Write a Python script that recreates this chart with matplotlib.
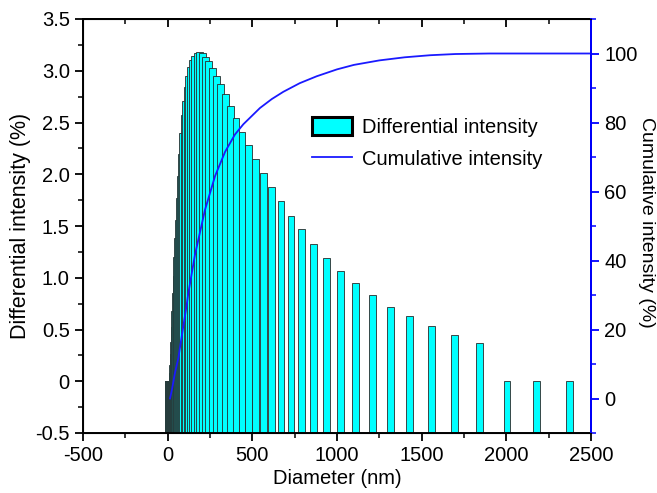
import matplotlib
matplotlib.use("Agg")
import matplotlib.pyplot as plt
from matplotlib.patches import Patch
from matplotlib.lines import Line2D
from matplotlib.ticker import MultipleLocator

plt.rcParams["font.family"] = ["Liberation Sans", "DejaVu Sans"]
plt.rcParams["axes.unicode_minus"] = False

# bar centres (nm) and differential intensity (%)
diameter = [2.8, 3.0, 3.3, 3.6, 3.9, 4.3, 4.6, 5.0, 5.5, 6.0,
            6.5, 7.1, 7.7, 8.4, 9.1, 9.9, 10.8, 11.7, 12.7, 13.9,
            15.1, 16.4, 17.9, 19.4, 21.1, 23.0, 25.0, 27.2, 29.6, 32.2,
            35.1, 38.2, 41.5, 45.2, 49.1, 53.5, 58.2, 63.3, 68.9, 74.9,
            81.5, 88.7, 96.5, 105, 114, 124, 135, 147, 160, 174,
            189, 206, 224, 243, 265, 288, 313, 341, 371, 403,
            439, 477, 519, 565, 615, 669, 728, 792, 862, 938,
            1020, 1110, 1208, 1314, 1430, 1556, 1693, 1842, 2004, 2180,
            2372]
differential = [0, 0, 0, 0, 0, 0, 0, 0, 0, 0,
                0, 0, 0, 0, 0, 0, 0, 0, 0, 0,
                0, 0, 0, 0, 0, 0, 0.03, 0.08, 0.16, 0.26,
                0.38, 0.52, 0.68, 0.85, 1.02, 1.20, 1.38, 1.56, 1.77, 1.98,
                2.20, 2.40, 2.57, 2.71, 2.84, 2.95, 3.04, 3.10, 3.14, 3.17,
                3.18, 3.17, 3.13, 3.09, 3.03, 2.95, 2.87, 2.78, 2.66, 2.54,
                2.41, 2.28, 2.15, 2.01, 1.88, 1.74, 1.60, 1.47, 1.33, 1.19,
                1.07, 0.95, 0.83, 0.72, 0.63, 0.53, 0.45, 0.37, 0, 0,
                0]

# cumulative intensity curve (%)
cum_d = [14, 25, 43, 63, 83, 112, 122, 161, 220, 280, 339, 397, 447,
         545, 615, 683, 780, 880, 1000, 1100, 1250, 1400, 1550, 1700, 1900, 2500]
cum_v = [0, 2.5, 7.4, 11.7, 18, 27, 30.5, 41.6, 54.6, 64.5, 71.5, 76.5, 79.5,
         84.2, 86.8, 88.9, 91.4, 93.4, 95.4, 96.7, 98.0, 98.9, 99.5, 99.85, 100, 100]

FS = 14.5
BAR_BASE = -0.5

fig = plt.figure(figsize=(6.57, 4.93), dpi=100)
ax = fig.add_axes([83 / 657, 1 - 433 / 493, 508 / 657, 414 / 493])

heights = [v - BAR_BASE for v in differential]
ax.bar(diameter, heights, bottom=BAR_BASE, width=40, color="#00ffff",
       edgecolor="#2a2a2a", linewidth=0.6)

ax.set_xlim(-500, 2500)
ax.set_ylim(-0.5, 3.5)
ax.xaxis.set_major_locator(MultipleLocator(500))
ax.xaxis.set_minor_locator(MultipleLocator(250))
ax.yaxis.set_minor_locator(MultipleLocator(0.25))
ax.set_yticks([-0.5, 0, 0.5, 1.0, 1.5, 2.0, 2.5, 3.0, 3.5])
ax.set_yticklabels(["-0.5", "0", "0.5", "1.0", "1.5", "2.0", "2.5", "3.0", "3.5"])
ax.tick_params(axis="both", which="major", direction="out", length=6, width=1.3, labelsize=FS)
ax.tick_params(axis="both", which="minor", direction="out", length=3.5, width=1.1)
for s in ax.spines.values():
    s.set_linewidth(1.4)
ax.set_xlabel("Diameter (nm)", fontsize=FS, labelpad=3)
ax.set_ylabel("Differential intensity (%)", fontsize=15.5, labelpad=3)

# top axis: ticks pointing inwards, no labels
top = ax.secondary_xaxis("top")
top.xaxis.set_major_locator(MultipleLocator(500))
top.xaxis.set_minor_locator(MultipleLocator(250))
top.tick_params(which="major", direction="in", length=6, width=1.3, labeltop=False)
top.tick_params(which="minor", direction="in", length=3.5, width=1.1)
top.spines["top"].set_linewidth(1.4)

ax2 = ax.twinx()
ax2.plot(cum_d, cum_v, color="#1a1aff", lw=1.3)
ax2.set_ylim(-10, 110)
ax2.yaxis.set_minor_locator(MultipleLocator(10))
ax2.set_yticks([0, 20, 40, 60, 80, 100])
ax2.spines["right"].set_color("blue")
ax2.spines["right"].set_linewidth(1.4)
ax2.tick_params(axis="y", which="major", direction="out", length=6, width=1.3,
                color="blue", labelcolor="black", labelsize=FS)
ax2.tick_params(axis="y", which="minor", direction="out", length=3.5, width=1.1, color="blue")
fig.text(647 / 657, 1 - 222 / 493, "Cumulative intensity (%)", fontsize=14,
         rotation=270, ha="center", va="center")

handles = [Patch(facecolor="#00ffff", edgecolor="black", linewidth=2.2),
           Line2D([], [], color="#1a1aff", lw=1.3)]
ax2.legend(handles, ["Differential intensity", "Cumulative intensity"],
           loc="upper left", bbox_to_anchor=(312 / 657, 1 - 117 / 493),
           bbox_transform=fig.transFigure, frameon=False, fontsize=FS,
           handlelength=2.0, handleheight=1.0, handletextpad=0.5,
           labelspacing=0.62, borderpad=0, borderaxespad=0)

fig.savefig("out.png", dpi=100)
